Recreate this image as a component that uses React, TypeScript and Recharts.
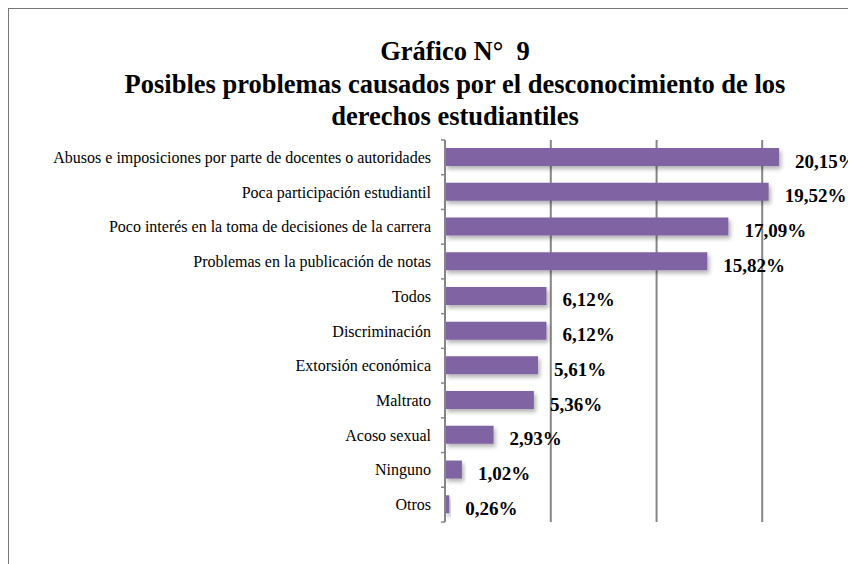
import React from 'react'
import { BarChart, Bar, XAxis, YAxis, CartesianGrid, LabelList } from 'recharts'

// Valores del gráfico (porcentajes)
const categorias = [
  'Abusos e imposiciones por parte de docentes o autoridades',
  'Poca participación estudiantil',
  'Poco interés en la toma de decisiones de la carrera',
  'Problemas en la publicación de notas',
  'Todos',
  'Discriminación',
  'Extorsión económica',
  'Maltrato',
  'Acoso sexual',
  'Ninguno',
  'Otros',
]
const porcentajes = [20.15, 19.52, 17.09, 15.82, 6.12, 6.12, 5.61, 5.36, 2.93, 1.02, 0.26]
// líneas de división (eje oculto, escala en casos: 0, 25, 50, 75, 100 de 392)
const divisiones = [0, 6.38, 12.76, 19.13, 25.51]

const titulo = ['Gráfico N°  9', 'Posibles problemas causados por el desconocimiento de los', 'derechos estudiantiles']

const data = categorias.map((name, i) => ({ name, value: porcentajes[i] }))

const FONT = '"Liberation Serif", "Times New Roman", serif'
const GRIS = '#868686'
const W = 892
const H = 560
const M = { top: 131, right: 33, bottom: 47, left: 0 }
const band = (H - M.top - M.bottom) / categorias.length

const CategoryTick = (props: any) => {
  const { x, y, payload, index } = props
  const ax = x + 14
  return (
    <g>
      <text x={x} y={y} textAnchor="end" dominantBaseline="central" fontFamily={FONT} fontSize={16} fill="#000">
        {payload.value}
      </text>
      <line x1={ax - 4} x2={ax} y1={y - band / 2} y2={y - band / 2} stroke={GRIS} strokeWidth={1.5} />
      {index === categorias.length - 1 && (
        <line x1={ax - 4} x2={ax} y1={y + band / 2} y2={y + band / 2} stroke={GRIS} strokeWidth={1.5} />
      )}
    </g>
  )
}

const ValueLabel = (props: any) => {
  const { x, y, width, height, value } = props
  return (
    <text x={x + width + 16} y={y + height / 2 + 4} dominantBaseline="central" fontFamily={FONT} fontSize={19} fontWeight="bold" fill="#000">
      {value.toFixed(2).replace('.', ',') + '%'}
    </text>
  )
}

export default function App() {
  return (
    <div style={{ width: 848, height: 556, overflow: 'hidden' }}>
      <div style={{ position: 'relative', width: W, height: H, borderLeft: '1px solid #777', borderTop: '1px solid #777' }}>
        <div
          style={{
            position: 'absolute', top: 26, left: 0, width: W, textAlign: 'center',
            fontFamily: FONT, fontWeight: 'bold', fontSize: 26.5, lineHeight: '32.5px', whiteSpace: 'pre', color: '#000',
          }}
        >
          {titulo.map((t) => <div key={t}>{t}</div>)}
        </div>
        <BarChart width={W} height={H} data={data} layout="vertical" margin={M}>
          <defs>
            <filter id="sombra" x="-10%" y="-30%" width="130%" height="180%">
              <feDropShadow dx="2" dy="3" stdDeviation="2" floodColor="#000" floodOpacity="0.3" />
            </filter>
          </defs>
          <CartesianGrid horizontal={false} stroke={GRIS} strokeWidth={2} />
          <XAxis type="number" hide domain={[0, divisiones[divisiones.length - 1]]} ticks={divisiones} />
          <YAxis
            type="category"
            dataKey="name"
            width={436}
            axisLine={{ stroke: GRIS, strokeWidth: 2 }}
            tickLine={false}
            tickSize={0}
            tickMargin={14}
            tick={<CategoryTick />}
            interval={0}
          />
          <Bar dataKey="value" fill="#8064A2" barSize={18} filter="url(#sombra)" isAnimationActive={false}>
            <LabelList dataKey="value" content={<ValueLabel />} />
          </Bar>
        </BarChart>
      </div>
    </div>
  )
}
